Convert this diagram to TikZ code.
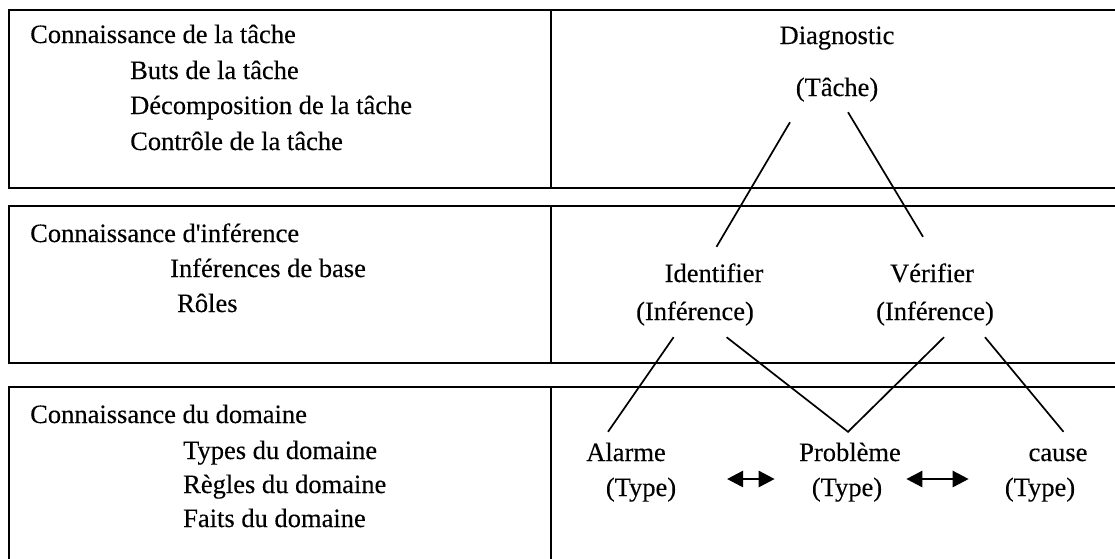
\documentclass[tikz,border=0pt]{standalone}
\usepackage{fontspec}
\setmainfont{Liberation Serif}[Ligatures=TeXOff,FakeBold=0.25]
\usetikzlibrary{arrows.meta}

\begin{document}
\begin{tikzpicture}[x=1pt,y=-1pt,
        box/.style={line width=2pt},
        lbl/.style={inner sep=0pt,text height=18pt,text depth=6pt,font=\fontsize{26.5}{32}\selectfont},
        txt/.style={inner sep=0pt,anchor=base west,font=\fontsize{26.5}{32}\selectfont},
        link/.style={line width=1.7pt},
        rel/.style={line width=2.6pt,{Triangle[length=16pt,width=16pt]}-{Triangle[length=16pt,width=16pt]}}]
  \useasboundingbox (0,0) rectangle (1115,558);
  % the three layers
  \draw[box] (9,10) rectangle (1130,188) (551,10) -- (551,188);
  \draw[box] (9,206) rectangle (1130,363) (551,206) -- (551,363);
  \draw[box] (9,387) rectangle (1130,575) (551,387) -- (551,575);

  % left column
  \node[txt] (tk0) at (30,43)   {Connaissance de la tâche};
  \node[txt] (tk1) at (130,79)  {Buts de la tâche};
  \node[txt] (tk2) at (130,114) {Décomposition de la tâche};
  \node[txt] (tk3) at (130,150) {Contrôle de la tâche};
  \node[txt] (in0) at (30,242)  {Connaissance d'inférence};
  \node[txt] (in1) at (170,277) {Inférences de base};
  \node[txt] (in2) at (177,312) {Rôles};
  \node[txt] (dm0) at (30,423)  {Connaissance du domaine};
  \node[txt] (dm1) at (183,459) {Types du domaine};
  \node[txt] (dm2) at (183,493) {Règles du domaine};
  \node[txt] (dm3) at (183,527) {Faits du domaine};

  % right column
  \node[lbl] (diag)    at (837,38)  {Diagnostic};
  \node[lbl] (tache)   at (837,90)  {(Tâche)};
  \node[lbl] (ident)   at (714,276) {Identifier};
  \node[lbl] (identI)  at (695,314) {(Inférence)};
  \node[lbl] (verif)   at (932,276) {Vérifier};
  \node[lbl] (verifI)  at (935,314) {(Inférence)};
  \node[lbl] (alarme)  at (626,455) {Alarme};
  \node[lbl] (alarmeT) at (641,490) {(Type)};
  \node[lbl] (prob)    at (850,455) {Problème};
  \node[lbl] (probT)   at (847,490) {(Type)};
  \node[lbl] (cause)   at (1058,455) {cause};
  \node[lbl] (causeT)  at (1040,490) {(Type)};

  \draw[link] ([xshift=-47pt,yshift=-20pt]tache.south) -- ([xshift=2.5pt,yshift=17pt]ident.north);
  \draw[link] ([xshift=11pt,yshift=-10pt]tache.south) -- ([xshift=-9pt,yshift=27pt]verif.north);
  \draw[link] ([xshift=-21.4pt,yshift=-11pt]identI.south) -- ([xshift=-18pt,yshift=11pt]alarme.north);
  \draw[link] ([xshift=31.6pt,yshift=-11pt]identI.south) -- ([xshift=-2pt,yshift=11pt]prob.north)
              -- ([xshift=9pt,yshift=-11pt]verifI.south);
  \draw[link] ([xshift=50pt,yshift=-11pt]verifI.south) -- ([xshift=5.5pt,yshift=11pt]cause.north);

  \draw[rel] ([xshift=50.7pt,yshift=11pt]alarmeT.east) -- ([xshift=-37pt,yshift=11pt]probT.west);
  \draw[rel] ([xshift=24pt,yshift=11pt]probT.east) -- ([xshift=-36pt,yshift=11pt]causeT.west);
\end{tikzpicture}
\end{document}
